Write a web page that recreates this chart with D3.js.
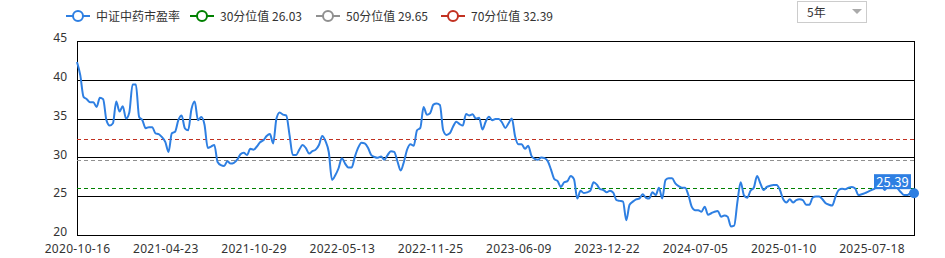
<!DOCTYPE html>
<meta charset="utf-8">
<script src="https://cdn.jsdelivr.net/npm/d3@7/dist/d3.min.js"></script>
<style>
  body { margin: 0; background: #fff; }
  text { font-family: "Noto Sans CJK SC", "Noto Sans", sans-serif; }
  .y-axis text, .x-axis text { font-family: "Noto Sans", sans-serif; }
</style>
<div id="dataviz"></div>
<script>
// weekly PE of the index, first week 2020-10-16
var peValues = [
  42.3, 40.6, 37.8, 37.5, 37.1, 37.1, 36.5, 37.7, 37.5, 34.8, 34.1, 34.4, 37.2, 35.9, 36.6, 35.0, 35.8, 39.4, 39.4, 35.2,
  34.8, 33.75, 33.9, 33.9, 33.1, 33.0, 32.6, 32.0, 30.7, 33.1, 33.3, 34.8, 35.4, 33.75, 33.5, 36.2,
  37.2, 34.8, 35.2, 34.2, 31.2, 31.4, 31.6, 29.4, 29.0, 28.9, 29.5, 29.2, 29.3, 29.7, 30.4, 30.6, 30.3, 31.1, 31.0, 31.4,
  31.95, 32.2, 32.75, 33.0, 31.8, 35.0, 35.8, 35.5, 35.4, 32.9, 30.3, 30.3, 31.0, 31.6, 31.2, 30.5, 30.8,
  31.0, 31.6, 32.75, 32.1, 30.7, 27.1, 27.7, 28.6, 29.9, 29.2, 28.7, 28.7, 30.1, 31.25, 31.9, 31.8, 31.25, 30.3, 30.05,
  29.95, 30.1, 29.7, 30.3, 30.8, 30.7, 29.5, 28.3, 29.45, 31.05, 31.7, 31.5, 33.5, 33.8, 36.5, 35.5, 35.7, 36.8,
  36.95, 36.75, 33.5, 32.9, 33.1, 33.95, 34.6, 34.3, 34.1, 35.6, 35.4, 35.55, 35.0, 35.1, 33.6, 34.6, 35.25, 34.8, 34.95,
  34.95, 34.5, 33.8, 34.4, 35.0, 32.7, 31.7, 31.7, 31.1, 31.5, 30.2, 29.8, 29.7, 30.0, 29.9, 29.5, 28.4, 27.2,
  26.95, 26.2, 26.8, 26.95, 27.6, 27.2, 24.7, 25.7, 25.4, 25.5, 25.7, 26.8, 26.5, 25.9, 25.8, 25.5, 25.7, 25.45, 24.5,
  24.4, 24.3, 21.9, 23.9, 24.3, 24.6, 24.7, 25.25, 24.8, 24.7, 25.5, 25.15, 26.1, 24.7, 27.1, 27.3, 27.3, 26.65,
  26.3, 26.1, 26.1, 25.15, 23.65, 23.2, 23.2, 23.0, 23.65, 22.6, 22.8, 23.0, 23.1, 22.35, 22.5, 22.35, 21.1, 21.2, 24.3,
  26.8, 25.1, 24.8, 25.7, 26.1, 27.6, 26.65, 25.8, 26.2, 26.35, 26.45, 26.45, 25.8, 24.6, 24.2, 24.6, 24.2, 24.5,
  24.6, 24.5, 23.9, 23.9, 24.8, 24.95, 24.95, 24.6, 24.1, 23.9, 23.8, 24.95, 25.8, 25.95, 25.9, 26.1, 26.2, 26.0,
  25.15, 25.25, 25.4, 25.6, 25.8, 26.0, 26.45, 26.5, 25.8, 26.2, 26.2, 26.45, 26.0, 25.5, 25.15, 25.15, 25.4, 25.39
];

// x labels, one every 27 weeks
var tickLabels = ["2020-10-16", "2021-04-23", "2021-10-29", "2022-05-13", "2022-11-25",
                  "2023-06-09", "2023-12-22", "2024-07-05", "2025-01-10", "2025-07-18"];
var tickStep = 27;

var yTicks = [20, 25, 30, 35, 40, 45];

var seriesNames = ["中证中药市盈率", "30分位值 26.03", "50分位值 29.65", "70分位值 32.39"];
var seriesColors = ["#2e7fe2", "#008000", "#909090", "#c23121"];
var percentiles = [26.03, 29.65, 32.39];

var margin = { top: 41, right: 31, bottom: 23, left: 77 };
var W = 945, H = 258;
var width = W - margin.left - margin.right;
var height = H - margin.top - margin.bottom;

var root = d3.select("#dataviz").append("svg")
    .attr("width", W)
    .attr("height", H);

var svg = root.append("g")
    .attr("transform", "translate(" + margin.left + "," + margin.top + ")");

var x = d3.scaleLinear().domain([0, peValues.length - 1]).range([0, width]);
var y = d3.scaleLinear().domain([20, 45]).range([height, 0]);

// horizontal grid lines
svg.append("g")
    .attr("class", "y-grid")
    .call(d3.axisLeft(y).tickValues(yTicks).tickSize(-width).tickFormat(""))
    .call(g => g.select(".domain").remove())
    .selectAll("line").attr("stroke", "#000").attr("shape-rendering", "crispEdges");

// left axis
svg.append("g")
    .attr("class", "y-axis")
    .call(d3.axisLeft(y).tickValues(yTicks).tickSize(0).tickPadding(10))
    .call(g => g.select(".domain").attr("stroke", "#000").attr("shape-rendering", "crispEdges"))
    .selectAll("text")
    .attr("fill", "#333")
    .attr("dy", "0.05em")
    .style("font-size", "12px");

// right border
svg.append("line")
    .attr("x1", width).attr("x2", width)
    .attr("y1", 0).attr("y2", height)
    .attr("stroke", "#000").attr("shape-rendering", "crispEdges");

// bottom axis
svg.append("g")
    .attr("class", "x-axis")
    .attr("transform", "translate(0," + height + ")")
    .call(d3.axisBottom(x)
        .tickValues(tickLabels.map((d, i) => i * tickStep))
        .tickFormat((d, i) => tickLabels[i])
        .tickSize(0).tickPadding(9))
    .call(g => g.select(".domain").attr("stroke", "#000").attr("shape-rendering", "crispEdges"))
    .selectAll("text")
    .attr("fill", "#333")
    .style("letter-spacing", "0.3px")
    .style("font-size", "12px");

// percentile lines
percentiles.forEach(function(p, i) {
    svg.append("line")
        .attr("x1", 0).attr("x2", width)
        .attr("y1", Math.round(y(p)) + 0.5).attr("y2", Math.round(y(p)) + 0.5)
        .attr("stroke", seriesColors[i + 1])
        .attr("stroke-width", 1)
        .style("stroke-dasharray", "4, 3");
});

// PE line
var line = d3.line()
    .x((d, i) => x(i))
    .y(d => y(d))
    .curve(d3.curveMonotoneX);

svg.append("path")
    .datum(peValues)
    .attr("fill", "none")
    .attr("stroke", seriesColors[0])
    .attr("stroke-width", 2)
    .attr("stroke-linejoin", "round")
    .attr("d", line);

// last point + label
var lastI = peValues.length - 1;
var lastV = peValues[lastI];
svg.append("circle")
    .attr("cx", x(lastI)).attr("cy", y(lastV))
    .attr("r", 5)
    .attr("fill", seriesColors[0]);

var lbl = svg.append("g")
    .attr("transform", "translate(" + (x(lastI) - 2) + "," + (y(lastV) - 4) + ")");
lbl.append("rect")
    .attr("x", -38).attr("y", -15)
    .attr("width", 37).attr("height", 15)
    .attr("fill", seriesColors[0]);
lbl.append("text")
    .attr("x", -19.5).attr("y", -2.5)
    .attr("text-anchor", "middle")
    .attr("fill", "#fff")
    .style("font-size", "13px")
    .text(d3.format(".2f")(lastV));

// legend
var legendX = [66, 190, 316, 441];
var legend = root.append("g").attr("transform", "translate(0,16)");
seriesNames.forEach(function(name, i) {
    var g = legend.append("g").attr("transform", "translate(" + legendX[i] + ",0)");
    g.append("line")
        .attr("x1", 0).attr("x2", 24)
        .attr("stroke", seriesColors[i]).attr("stroke-width", 2);
    g.append("circle")
        .attr("cx", 12).attr("r", 5)
        .attr("fill", "#fff")
        .attr("stroke", seriesColors[i]).attr("stroke-width", 2);
    g.append("text")
        .attr("x", 30).attr("y", 4.5)
        .attr("fill", "#333")
        .style("font-size", "12px")
        .text(name);
});

// period selector
var sel = root.append("g").attr("transform", "translate(797,1)");
sel.append("rect")
    .attr("x", 0.5).attr("y", 0.5)
    .attr("width", 69).attr("height", 21)
    .attr("fill", "#fff").attr("stroke", "#ccc");
sel.append("text")
    .attr("x", 10).attr("y", 15.5)
    .attr("fill", "#333")
    .style("font-size", "12px")
    .text("5年");
sel.append("path")
    .attr("d", "M55,8L65,8L60,13Z")
    .attr("fill", "#aaa");
</script>
